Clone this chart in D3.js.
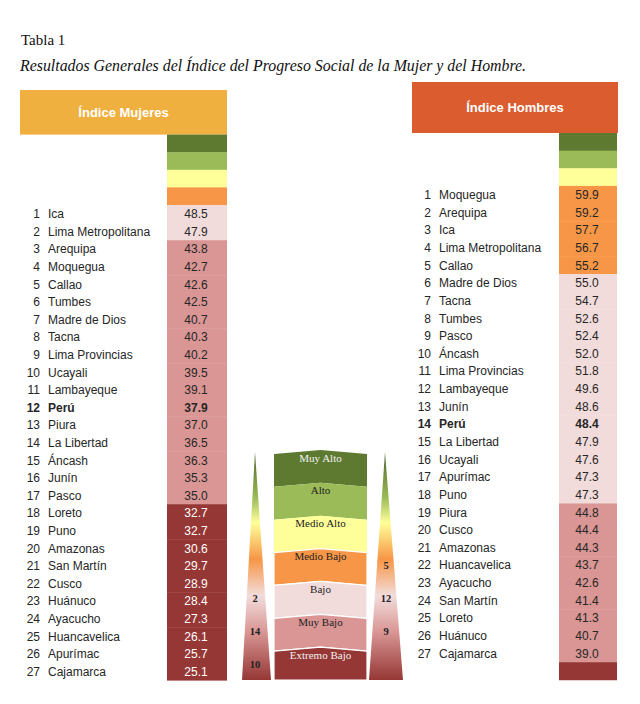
<!DOCTYPE html>
<html>
<head>
<meta charset="utf-8">
<script src="https://cdn.jsdelivr.net/npm/d3@7"></script>
<style>
  html, body { margin: 0; padding: 0; background: #fff; }
  svg { display: block; }
</style>
</head>
<body>
<svg id="chart" width="640" height="704"></svg>
<script>
// ---------- DATA ----------
const levels = ["Muy Alto", "Alto", "Medio Alto", "Medio Bajo", "Bajo", "Muy Bajo", "Extremo Bajo"];
const levelColors = ["#5E7A31", "#9BBB59", "#FFFF99", "#F79646", "#F2DCDB", "#D99694", "#953735"];

const womenRegions = ["Ica", "Lima Metropolitana", "Arequipa", "Moquegua", "Callao", "Tumbes", "Madre de Dios",
  "Tacna", "Lima Provincias", "Ucayali", "Lambayeque", "Perú", "Piura", "La Libertad", "Áncash", "Junín",
  "Pasco", "Loreto", "Puno", "Amazonas", "San Martín", "Cusco", "Huánuco", "Ayacucho", "Huancavelica",
  "Apurímac", "Cajamarca"];
const womenValues = [48.5, 47.9, 43.8, 42.7, 42.6, 42.5, 40.7, 40.3, 40.2, 39.5, 39.1, 37.9, 37.0, 36.5,
  36.3, 35.3, 35.0, 32.7, 32.7, 30.6, 29.7, 28.9, 28.4, 27.3, 26.1, 25.7, 25.1];
const womenLevels = ["Bajo", "Bajo", "Muy Bajo", "Muy Bajo", "Muy Bajo", "Muy Bajo", "Muy Bajo", "Muy Bajo",
  "Muy Bajo", "Muy Bajo", "Muy Bajo", "Muy Bajo", "Muy Bajo", "Muy Bajo", "Muy Bajo", "Muy Bajo", "Muy Bajo",
  "Extremo Bajo", "Extremo Bajo", "Extremo Bajo", "Extremo Bajo", "Extremo Bajo", "Extremo Bajo",
  "Extremo Bajo", "Extremo Bajo", "Extremo Bajo", "Extremo Bajo"];

const menRegions = ["Moquegua", "Arequipa", "Ica", "Lima Metropolitana", "Callao", "Madre de Dios", "Tacna",
  "Tumbes", "Pasco", "Áncash", "Lima Provincias", "Lambayeque", "Junín", "Perú", "La Libertad", "Ucayali",
  "Apurímac", "Puno", "Piura", "Cusco", "Amazonas", "Huancavelica", "Ayacucho", "San Martín", "Loreto",
  "Huánuco", "Cajamarca"];
const menValues = [59.9, 59.2, 57.7, 56.7, 55.2, 55.0, 54.7, 52.6, 52.4, 52.0, 51.8, 49.6, 48.6, 48.4, 47.9,
  47.6, 47.3, 47.3, 44.8, 44.4, 44.3, 43.7, 42.6, 41.4, 41.3, 40.7, 39.0];
const menLevels = ["Medio Bajo", "Medio Bajo", "Medio Bajo", "Medio Bajo", "Medio Bajo", "Bajo", "Bajo", "Bajo",
  "Bajo", "Bajo", "Bajo", "Bajo", "Bajo", "Bajo", "Bajo", "Bajo", "Bajo", "Bajo", "Muy Bajo", "Muy Bajo",
  "Muy Bajo", "Muy Bajo", "Muy Bajo", "Muy Bajo", "Muy Bajo", "Muy Bajo", "Muy Bajo"];

const nationalName = "Perú";
const titleText = "Tabla 1";
const subtitleText = "Resultados Generales del Índice del Progreso Social de la Mujer y del Hombre.";
const womenTitle = "Índice Mujeres";
const menTitle = "Índice Hombres";

// ---------- SETUP ----------
const svg = d3.select("#chart");
const color = d3.scaleOrdinal().domain(levels).range(levelColors);
const sans = "'Liberation Sans', Arial, sans-serif";
const serif = "'Liberation Serif', 'Times New Roman', serif";

// Title
svg.append("text").attr("x", 21).attr("y", 45)
  .style("font-family", serif).style("font-size", "15px").attr("fill", "#111")
  .text(titleText);
const sub = svg.append("text").attr("x", 20).attr("y", 70.5)
  .style("font-family", serif).style("font-style", "italic").style("font-size", "15.5px").attr("fill", "#111")
  .text(subtitleText);
(function fit() {
  const w = sub.node().getComputedTextLength();
  const target = 506;
  if (w > 0) sub.style("font-size", (15.5 * target / w).toFixed(2) + "px");
})();

// ---------- TABLE PANEL ----------
function drawPanel(cfg) {
  const g = svg.append("g");
  // header
  g.append("rect").attr("x", cfg.hx0).attr("y", cfg.hy0)
    .attr("width", cfg.hx1 - cfg.hx0).attr("height", cfg.hy1 - cfg.hy0).attr("fill", cfg.hColor);
  g.append("text").attr("x", (cfg.hx0 + cfg.hx1) / 2).attr("y", (cfg.hy0 + cfg.hy1) / 2 + 4.5)
    .attr("text-anchor", "middle").style("font-family", sans).style("font-weight", "bold")
    .style("font-size", "13px").attr("fill", "#fff").text(cfg.title);

  // slots: leading level blocks, data rows, trailing level blocks
  const slots = [];
  cfg.lead.forEach(l => slots.push({ level: l }));
  cfg.regions.forEach((r, i) => slots.push({ level: cfg.lvls[i], name: r, value: cfg.values[i], rank: i + 1 }));
  cfg.trail.forEach(l => slots.push({ level: l }));

  const y = d3.scaleBand().domain(d3.range(slots.length))
    .range([cfg.y0, cfg.y0 + slots.length * cfg.step]).padding(0);

  g.selectAll("rect.cell").data(slots).join("rect").attr("class", "cell")
    .attr("x", cfg.cx0).attr("width", cfg.cx1 - cfg.cx0)
    .attr("y", (d, i) => y(i)).attr("height", y.bandwidth() + 0.4)
    .attr("fill", d => color(d.level));

  const rows = slots.map((d, i) => ({ ...d, i })).filter(d => d.name);
  const txt = (sel) => sel.style("font-family", sans).style("font-size", "12px")
    .style("font-weight", d => d.name === nationalName ? "bold" : "normal");

  g.selectAll("text.rank").data(rows).join("text").attr("class", "rank")
    .attr("x", cfg.rankX).attr("y", d => y(d.i) + y.bandwidth() / 2 + 4.3)
    .attr("text-anchor", "end").attr("fill", "#262626").call(txt).text(d => d.rank);
  g.selectAll("text.name").data(rows).join("text").attr("class", "name")
    .attr("x", cfg.nameX).attr("y", d => y(d.i) + y.bandwidth() / 2 + 4.3)
    .attr("fill", "#262626").call(txt).text(d => d.name);
  g.selectAll("text.val").data(rows).join("text").attr("class", "val")
    .attr("x", (cfg.cx0 + cfg.cx1) / 2 - 1).attr("y", d => y(d.i) + y.bandwidth() / 2 + 4.3)
    .attr("text-anchor", "middle")
    .attr("fill", d => d.level === "Extremo Bajo" ? "#fff" : "#262626")
    .call(txt).text(d => d3.format(".1f")(d.value));
}

drawPanel({
  title: womenTitle, hColor: "#F0B03F", hx0: 20, hx1: 227, hy0: 90, hy1: 134.6,
  cx0: 167, cx1: 227, y0: 134.6, step: 17.6,
  lead: levels.slice(0, 4), trail: [],
  regions: womenRegions, values: womenValues, lvls: womenLevels,
  rankX: 40, nameX: 48
});
drawPanel({
  title: menTitle, hColor: "#DB5C2F", hx0: 412, hx1: 618, hy0: 82, hy1: 133,
  cx0: 559, cx1: 617, y0: 133, step: 17.64,
  lead: levels.slice(0, 3), trail: levels.slice(6),
  regions: menRegions, values: menValues, lvls: menLevels,
  rankX: 431, nameX: 439
});

// ---------- CENTRAL LEGEND ----------
const lg = svg.append("g");
const ly = d3.scaleBand().domain(levels).range([450, 680]).padding(0);
const lx0 = 274, lx1 = 367, lxm = (lx0 + lx1) / 2, peak = 4;

levels.forEach((l, i) => {
  const top = ly(l), bot = top + ly.bandwidth();
  const last = i === levels.length - 1;
  const pts = [[lx0, top + peak], [lxm, top], [lx1, top + peak],
    [lx1, last ? bot : bot + peak], [lxm, bot], [lx0, last ? bot : bot + peak]];
  lg.append("path").attr("d", d3.line()(pts) + "Z").attr("fill", color(l))
    .attr("stroke", i >= 3 ? "#fff" : "none").attr("stroke-width", i >= 3 ? 1.2 : 0);
});
lg.selectAll("text.lvl").data(levels).join("text").attr("class", "lvl")
  .attr("x", lxm).attr("y", d => ly(d) + 11.5).attr("text-anchor", "middle")
  .style("font-family", serif).style("font-size", "11px")
  .attr("fill", d => (d === "Muy Alto" || d === "Extremo Bajo") ? "#f2f2f2" : "#222")
  .text(d => d);

// gradient triangles
const defs = svg.append("defs");
const grad = defs.append("linearGradient").attr("id", "tri").attr("x1", 0).attr("y1", 0).attr("x2", 0).attr("y2", 1);
[[0, "#4F6228"], [0.2, "#9BBB59"], [0.31, "#FFFF99"], [0.47, "#F79646"], [0.63, "#F2DCDB"],
 [0.79, "#D99694"], [1, "#953735"]].forEach(([o, c]) => grad.append("stop").attr("offset", o).attr("stop-color", c));

const triangles = [
  { bx0: 242, bx1: 271, ax: 255, lvls: womenLevels, names: womenRegions, tx: 255 },
  { bx0: 369, bx1: 403, ax: 385, lvls: menLevels, names: menRegions, tx: 386 }
];
triangles.forEach(t => {
  lg.append("path").attr("d", d3.line()([[t.ax, 452], [t.bx1, 680], [t.bx0, 680]]) + "Z")
    .attr("fill", "url(#tri)");
  const counts = d3.rollups(t.lvls.filter((l, i) => t.names[i] !== nationalName), v => v.length, d => d);
  lg.selectAll(null).data(counts).join("text")
    .attr("x", t.tx).attr("y", d => ly(d[0]) + ly.bandwidth() / 2 + 4)
    .attr("text-anchor", "middle").style("font-family", serif).style("font-weight", "bold")
    .style("font-size", "10.5px").attr("fill", "#222").text(d => d[1]);
});
</script>
</body>
</html>
